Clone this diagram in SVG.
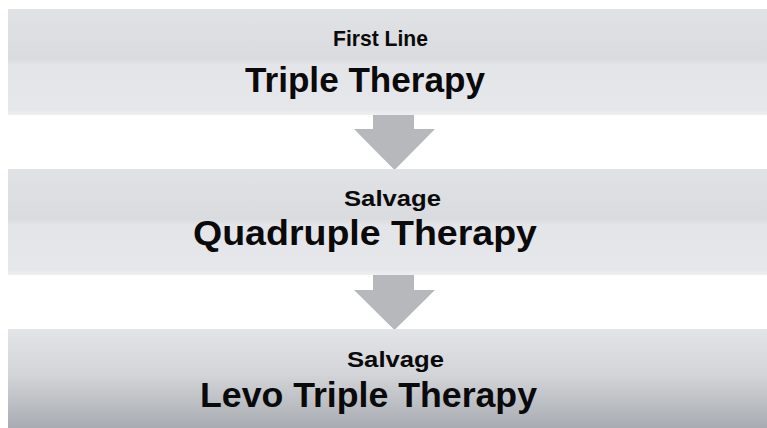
<svg xmlns="http://www.w3.org/2000/svg" width="767" height="428" viewBox="0 0 767 428">
  <defs>
    <linearGradient id="gLight" x1="0" y1="0" x2="0" y2="1">
      <stop offset="0" stop-color="#e1e2e5"/>
      <stop offset="0.47" stop-color="#dadbdf"/>
      <stop offset="0.53" stop-color="#e4e5e8"/>
      <stop offset="0.95" stop-color="#e6e7ea"/>
      <stop offset="1" stop-color="#eeeff1"/>
    </linearGradient>
    <linearGradient id="gDark" x1="0" y1="0" x2="0" y2="1">
      <stop offset="0" stop-color="#e3e4e7"/>
      <stop offset="0.45" stop-color="#d3d5d8"/>
      <stop offset="1" stop-color="#a8acb2"/>
    </linearGradient>
    <style>
      .box-light { fill: url(#gLight); }
      .box-dark { fill: url(#gDark); }
      .sub { font-family: "Liberation Sans", Arial, sans-serif; font-weight: 700; font-size: 22px; fill: #0a0a0a; }
      .main { font-family: "Liberation Sans", Arial, sans-serif; font-weight: 700; font-size: 35px; fill: #0a0a0a; }
      .arrow { fill: #b6b8bc; }
    </style>
  </defs>
  <rect x="0" y="0" width="767" height="428" fill="#ffffff"/>

  <g id="connectors">
    <polygon class="arrow" points="373,114 414,114 414,129 435,129 394.5,170 354,129 373,129"/>
    <polygon class="arrow" points="373,274 414,274 414,290 435,290 394.5,330 354,290 373,290"/>
  </g>

  <g id="node-first-line">
    <rect class="box-light" x="8" y="9" width="759" height="106"/>
    <text class="sub" x="333" y="46" textLength="95" lengthAdjust="spacingAndGlyphs">First Line</text>
    <text class="main" x="245" y="92" textLength="240" lengthAdjust="spacingAndGlyphs">Triple Therapy</text>
  </g>

  <g id="node-quadruple">
    <rect class="box-light" x="8" y="169" width="759" height="106"/>
    <text class="sub" x="344" y="206" font-size="24" textLength="97" lengthAdjust="spacingAndGlyphs">Salvage</text>
    <text class="main" x="193" y="245" font-size="37" textLength="344" lengthAdjust="spacingAndGlyphs">Quadruple Therapy</text>
  </g>

  <g id="node-levo">
    <rect class="box-dark" x="8" y="329" width="759" height="99"/>
    <text class="sub" x="347" y="367" font-size="24" textLength="97" lengthAdjust="spacingAndGlyphs">Salvage</text>
    <text class="main" x="200" y="407" font-size="36" textLength="337" lengthAdjust="spacingAndGlyphs">Levo Triple Therapy</text>
  </g>
</svg>
